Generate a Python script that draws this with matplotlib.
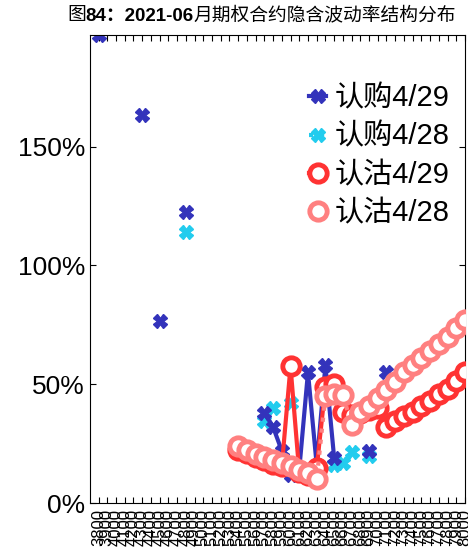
import numpy as np
import matplotlib
matplotlib.use("Agg")
import matplotlib.pyplot as plt

plt.rcParams['font.family'] = ['Liberation Sans', 'Noto Sans CJK SC', 'DejaVu Sans']

nan = np.nan

# strike labels (43 categories)
strikes = [str(3800 + 100 * k) for k in range(43)]

# implied vol, index 1..43 -> list position 0..42
call_0429 = [1.97, nan, nan, nan, nan, 1.635, nan, 0.765, nan, nan,
             1.225, nan, nan, nan, nan, nan, nan, nan, nan, 0.38,
             0.32, 0.22, 0.12, 0.14, 0.55, 0.16, 0.58, 0.19, nan, nan,
             nan, 0.22, nan, 0.55, nan, nan, nan, nan, nan, nan,
             nan, nan, 0.51]
call_0428 = [nan, nan, nan, nan, nan, nan, nan, nan, nan, nan,
             1.14, nan, nan, nan, nan, nan, nan, nan, nan, 0.345,
             0.40, nan, 0.42, nan, nan, nan, nan, 0.16, 0.17, 0.215,
             nan, 0.20, nan, nan, nan, nan, nan, nan, nan, nan,
             nan, nan, nan]
put_0429 = [nan, nan, nan, nan, nan, nan, nan, nan, nan, nan,
            nan, nan, nan, nan, nan, nan, 0.225, 0.21, 0.195, 0.18,
            0.165, 0.155, 0.575, 0.13, 0.12, 0.148, 0.49, 0.50, 0.385, 0.37,
            0.38, 0.39, 0.40, 0.32, 0.345, 0.365, 0.385, 0.41, 0.43, 0.46,
            0.48, 0.515, 0.55]
put_0428 = [nan, nan, nan, nan, nan, nan, nan, nan, nan, nan,
            nan, nan, nan, nan, nan, nan, 0.24, 0.225, 0.205, 0.195,
            0.18, 0.17, 0.155, 0.14, 0.125, 0.10, 0.45, 0.46, 0.455, 0.33,
            0.385, 0.41, 0.44, 0.475, 0.51, 0.55, 0.58, 0.61, 0.64, 0.67,
            0.70, 0.735, 0.77]

x = np.arange(1, len(strikes) + 1)

fig = plt.figure(figsize=(4.68, 5.47), dpi=100)
ax = fig.add_axes([0.192, 0.0804, 0.8016, 0.8556])

ax.plot(x, put_0429, color='#FF3333', lw=3, marker='o', ms=12.5,
        mfc='white', mec='#FF3333', mew=3.5, label='认沽4/29', zorder=3)
ax.plot(x, put_0428, color='#FF8080', lw=3, ls=':', marker='o', ms=12.5,
        mfc='white', mec='#FF8080', mew=3.5, label='认沽4/28', zorder=4)
ax.plot(x, call_0429, color='#3333BB', lw=3, marker='X', ms=10,
        mec='#3333BB', label='认购4/29', zorder=2)
ax.plot(x, call_0428, color='#22CCEE', lw=3, ls=':', marker='X', ms=10,
        mec='#22CCEE', label='认购4/28', zorder=1)

ax.set_xlim(0, 43)
ax.set_ylim(0, 1.97)
ax.set_xticks(x)
ax.set_xticklabels(strikes, rotation=90, fontsize=12)
ax.set_yticks([0, 0.5, 1.0, 1.5])
ax.set_yticklabels(['0%', '50%', '100%', '150%'], fontsize=19)
ax.tick_params(direction='in', top=True, right=True, length=4)
ax.tick_params(axis='x', pad=4)

handles, labels = ax.get_legend_handles_labels()
order = [2, 3, 0, 1]
ax.legend([handles[k] for k in order], [labels[k] for k in order],
          loc='upper right', bbox_to_anchor=(1.03, 0.95), frameon=False,
          handlelength=0.6, handletextpad=0.3, labelspacing=0.35,
          prop={'family': ['Liberation Sans', 'Noto Sans CJK SC'], 'size': 21})

# title in three pieces, middle one bold
t1 = fig.text(0.143, 0.963, '图', fontsize=13.5,
              family=['Noto Sans CJK SC', 'DejaVu Sans'], va='baseline')
t2 = ax.annotate('84：2021-06', xy=(1, 0), xycoords=t1, va='bottom',
                 fontsize=13.5, fontweight='bold',
                 family=['Liberation Sans', 'Noto Sans CJK SC'])
ax.annotate('月期权合约隐含波动率结构分布', xy=(1, 0), xycoords=t2, va='bottom',
            fontsize=13.5, family=['Noto Sans CJK SC', 'DejaVu Sans'])

fig.savefig('out.png', dpi=100)
